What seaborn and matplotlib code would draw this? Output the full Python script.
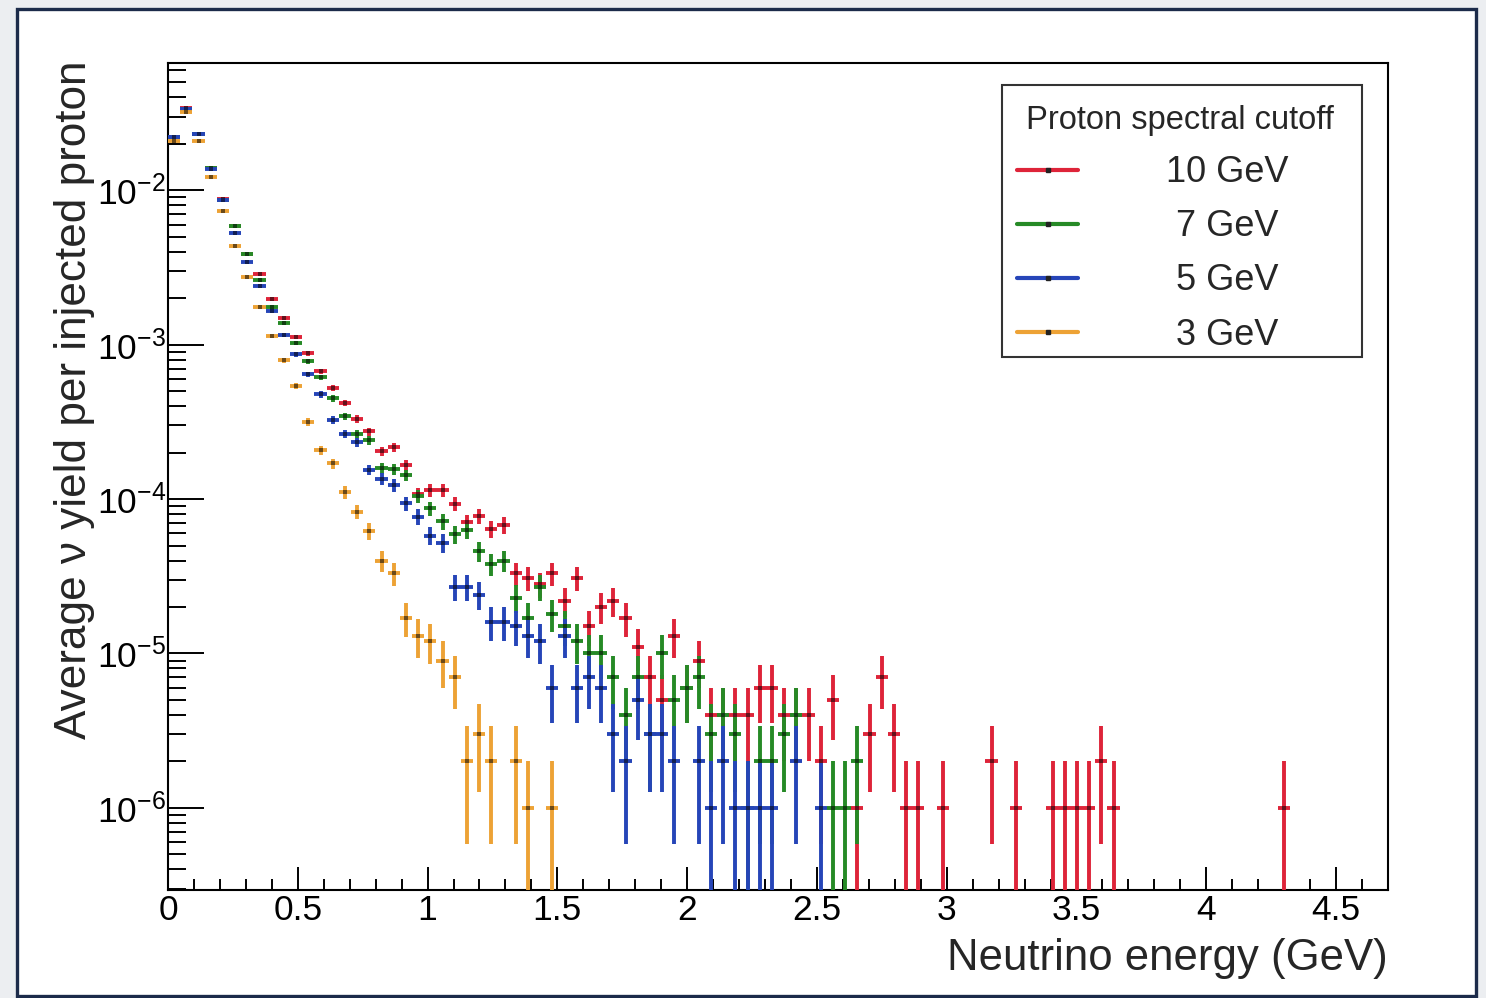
import numpy as np
import pandas as pd
import matplotlib
matplotlib.use("Agg")
import matplotlib.pyplot as plt
import seaborn as sns
from matplotlib.lines import Line2D
from matplotlib.patches import Rectangle
from matplotlib.colors import to_rgb
from matplotlib.ticker import MultipleLocator, LogLocator, NullFormatter, FuncFormatter

# ---------------- data (yield per 10^6 injected protons, per energy bin) ----------------
BIN_WIDTH = 0.047          # GeV, histogram bin width
N_PROTONS = 1.0e6          # normalisation (Poisson errors)
series_labels = ["10 GeV", "7 GeV", "5 GeV", "3 GeV"]
series_colors = ["#de2439", "#268a26", "#2645b8", "#eda235"]

cut_10gev = [22200, 34000, 23200, 14000, 8800, 5900, 3890, 2850, 1970, 1480,
             1120, 877, 674, 525, 420, 331, 274, 204, 216, 166,
             108, 114, 114, 93, 71, 78, 64, 68, 33, 31,
             28, 33, 22, 31, 15, 20, 22, 17, 11, 7,
             5, 13, 6, 9, 4, 4, 4, 4, 6, 6,
             4, 4, 4, 2, 5, 0, 1, 3, 7, 3,
             1, 1, 0, 1, 0, 0, 0, 2, 0, 1,
             0, 0, 1, 1, 1, 1, 2, 1, 0, 0,
             0, 0, 0, 0, 0, 0, 0, 0, 0, 0,
             0, 1]
cut_7gev = [22200, 33800, 23000, 13900, 8700, 5850, 3890, 2610, 1750, 1380,
            1030, 781, 614, 449, 343, 265, 240, 158, 156, 143,
            104, 87, 72, 59, 63, 46, 38, 40, 23, 17,
            27, 18, 15, 12, 10, 10, 7, 4, 7, 3,
            10, 5, 6, 7, 3, 4, 3, 1, 2, 2,
            3, 4, 0, 0, 1, 1, 2]
cut_5gev = [22000, 33600, 23000, 13800, 8600, 5300, 3430, 2390, 1650, 1160,
            865, 641, 476, 325, 265, 234, 155, 135, 123, 94,
            77, 58, 52, 27, 27, 24, 16, 16, 15, 13,
            12, 6, 13, 6, 7, 6, 3, 2, 5, 3,
            3, 2, 0, 2, 1, 2, 1, 1, 1, 1,
            0, 2, 0, 1]
cut_3gev = [21000, 32200, 20900, 12200, 7340, 4360, 2750, 1760, 1140, 794,
            541, 316, 207, 170, 111, 83, 62, 40, 33, 17,
            13, 12, 9, 7, 2, 3, 2, 0, 2, 1,
            0, 1]

x_ticks_major = 0.5
x_ticks_minor = 0.1
x_limits = (0.0, 4.7)
y_limits = (2.94e-7, 0.0667)

# ---------------- build long table ----------------
frames = []
for lab, vals in zip(series_labels, [cut_10gev, cut_7gev, cut_5gev, cut_3gev]):
    v = np.asarray(vals, dtype=float)
    idx = np.arange(len(v))
    frames.append(pd.DataFrame({
        "cutoff": lab,
        "energy": (idx + 0.5) * BIN_WIDTH,
        "counts": v,
    }))
df = pd.concat(frames, ignore_index=True)
df = df[df["counts"] > 0].copy()
df["yield"] = df["counts"] / N_PROTONS
df["err"] = np.sqrt(df["counts"]) / N_PROTONS

# ---------------- style ----------------
sns.set_theme(style="ticks")
plt.rcParams["font.family"] = ["Liberation Sans", "DejaVu Sans"]
plt.rcParams["mathtext.fontset"] = "custom"
plt.rcParams["mathtext.rm"] = "Liberation Sans"
plt.rcParams["mathtext.it"] = "Liberation Sans:italic"
plt.rcParams["mathtext.bf"] = "Liberation Sans:bold"
plt.rcParams["mathtext.default"] = "regular"
plt.rcParams["axes.unicode_minus"] = True

fig = plt.figure(figsize=(14.86, 9.98), dpi=100)
fig.patch.set_facecolor("#eceef1")
fig.patches.append(Rectangle((16.5 / 1486, 2.5 / 998), (1476 - 16.5) / 1486, (996 - 9) / 998,
                             transform=fig.transFigure, facecolor="white",
                             edgecolor="#1c2b4a", linewidth=2.4, zorder=-10))

ax = fig.add_axes([168 / 1486, 108 / 998, 1220 / 1486, 827 / 998])
ax.set_facecolor("white")

palette = dict(zip(series_labels, series_colors))
for lab in series_labels:
    d = df[df["cutoff"] == lab]
    y = d["yield"].to_numpy()
    e = d["err"].to_numpy()
    lower = np.minimum(e, y - 1e-10)
    dark = tuple(0.45 * c for c in to_rgb(palette[lab]))
    ax.errorbar(d["energy"], y, xerr=BIN_WIDTH / 2, yerr=[lower, e],
                fmt="s", markersize=2.2, color=dark, markeredgewidth=0,
                ecolor=palette[lab], elinewidth=2.8, capsize=0, zorder=3)

ax.set_yscale("log")
ax.set_xlim(*x_limits)
ax.set_ylim(*y_limits)

ax.xaxis.set_major_locator(MultipleLocator(x_ticks_major))
ax.xaxis.set_minor_locator(MultipleLocator(x_ticks_minor))
ax.xaxis.set_major_formatter(FuncFormatter(lambda v, p: f"{v:g}"))
ax.yaxis.set_major_locator(LogLocator(base=10, numticks=20))
ax.yaxis.set_minor_locator(LogLocator(base=10, subs=np.arange(2, 10), numticks=50))
ax.yaxis.set_minor_formatter(NullFormatter())

ax.tick_params(axis="both", which="both", direction="in", top=False, right=False,
               width=1.4, colors="black", labelsize=25.5)
ax.tick_params(axis="y", which="major", length=26, pad=1.5)
ax.tick_params(axis="y", which="minor", length=13)
ax.tick_params(axis="x", which="major", length=16.5, pad=3)
ax.tick_params(axis="x", which="minor", length=8)
for sp in ax.spines.values():
    sp.set_linewidth(1.5)
    sp.set_color("black")

ax.set_xlabel("Neutrino energy (GeV)", fontsize=31.5, loc="right")
ax.xaxis.set_label_coords(1.0, -0.0575)
ax.set_ylabel("Average \u03bd yield per injected proton", fontsize=31.8, loc="top")
ax.yaxis.set_label_coords(-0.0600, 1.003)

# legend box (ROOT TLegend style)
box_l, box_r = (1002 - 168) / 1220, (1362 - 168) / 1220
box_t, box_b = 1 - (85 - 63) / 827, 1 - (357 - 63) / 827
ax.add_patch(Rectangle((box_l, box_b), box_r - box_l, box_t - box_b, transform=ax.transAxes,
                       facecolor="white", edgecolor="#333333", linewidth=1.5, zorder=6))

handles = [Line2D([], [], color=c, lw=3.0, marker="s", markersize=2.2,
                  markerfacecolor="#222222", markeredgecolor="#222222")
           for c in series_colors]
labels = [lab if len(lab) > 5 else " " + lab for lab in series_labels]
leg = ax.legend(handles, labels, title=" Proton spectral cutoff", title_fontsize=23.5,
                fontsize=26, loc="upper left",
                bbox_to_anchor=(0.6836 - 0.00246, 0.9734 - 0.0024),
                borderaxespad=0, frameon=False, borderpad=0.5, handlelength=1.7,
                handletextpad=2.43, labelspacing=0.53, alignment="left")
leg.set_zorder(7)

fig.savefig("out.png", dpi=100, facecolor=fig.get_facecolor())
